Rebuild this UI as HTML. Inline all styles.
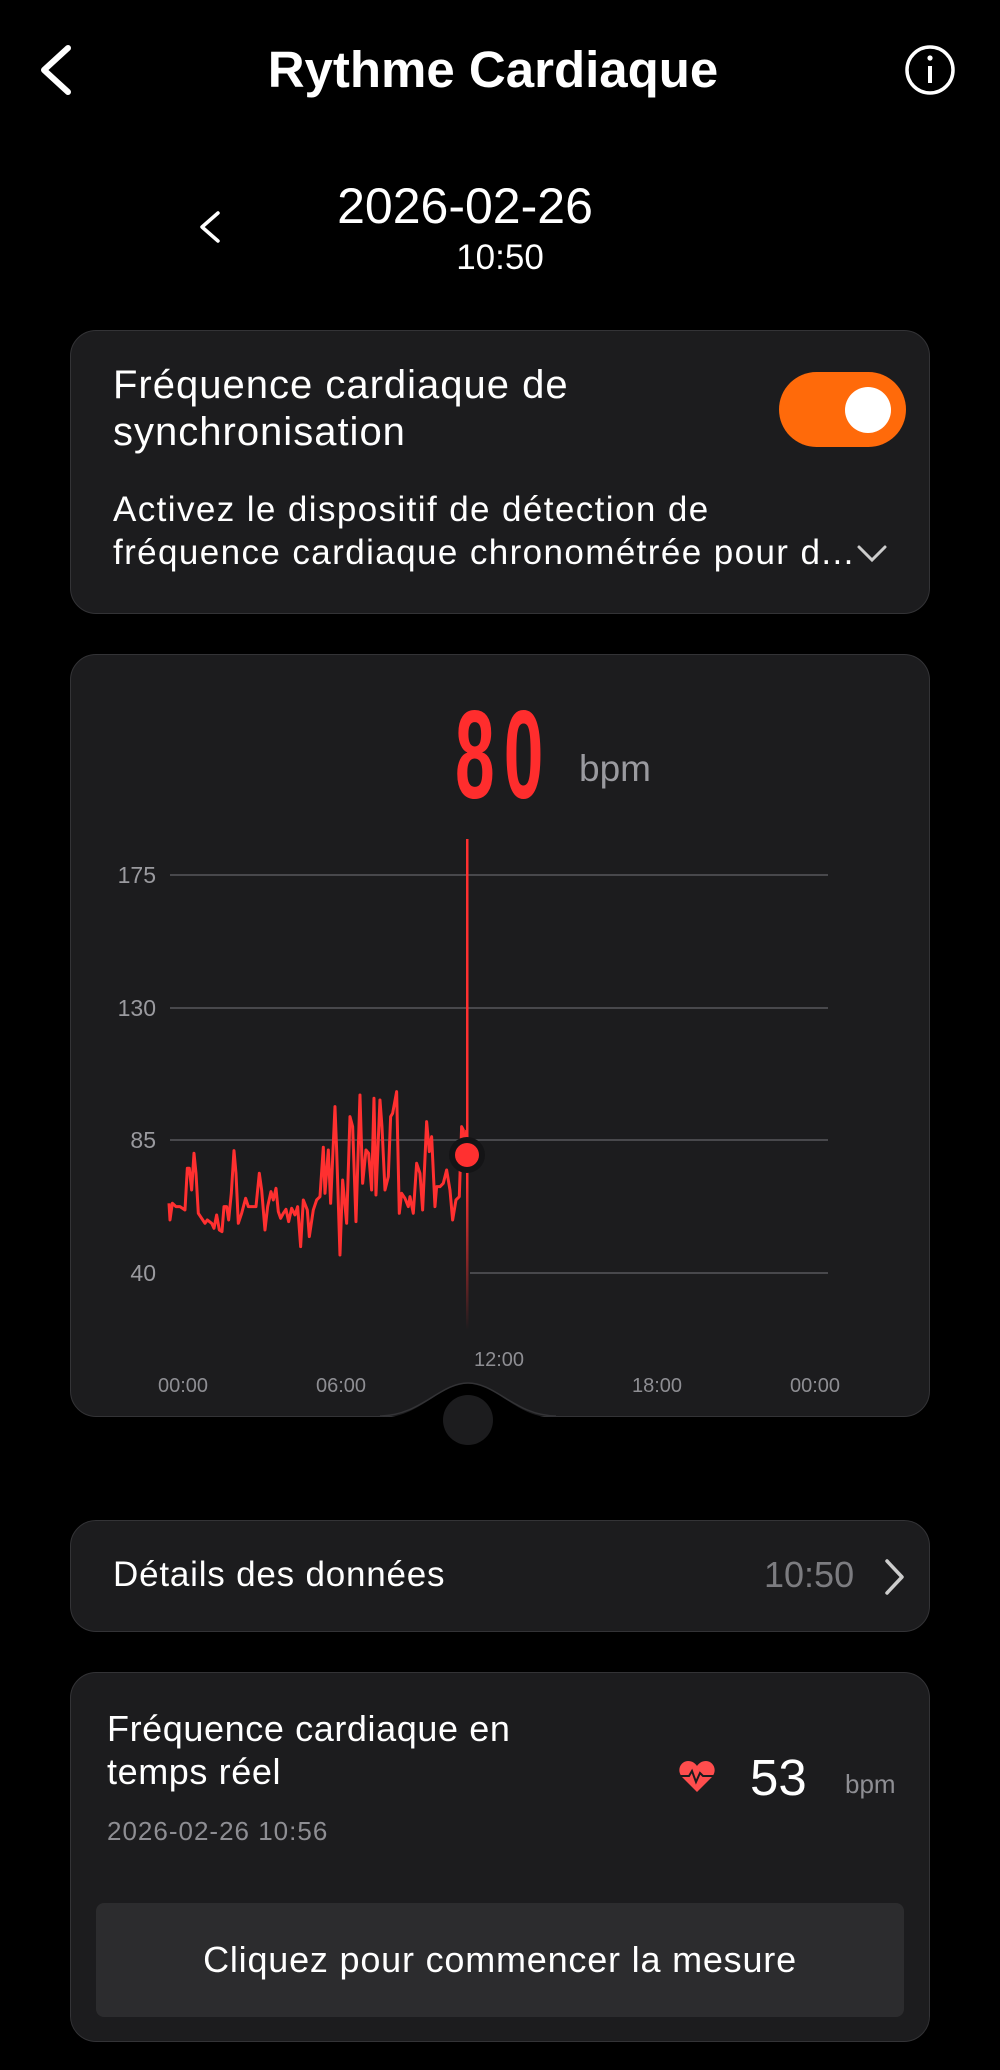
<!DOCTYPE html>
<html><head><meta charset="utf-8"><style>
*{margin:0;padding:0;box-sizing:border-box}
body{width:1000px;height:2070px;background:#000;position:relative;overflow:hidden;font-family:"Liberation Sans",sans-serif;color:#fff}
.a{position:absolute;white-space:nowrap}
.card{position:absolute;left:70px;width:860px;background:#1c1c1e;border:1.5px solid #333336;border-radius:26px}
</style></head><body>
<svg class="a" style="left:0;top:0" width="1000" height="300">
<polyline points="68,48 44,70 68,92" fill="none" stroke="#fff" stroke-width="6" stroke-linecap="round" stroke-linejoin="round"/>
<circle cx="930" cy="70" r="23" fill="none" stroke="#fff" stroke-width="3.5"/>
<rect x="928" y="66" width="4" height="17" fill="#fff"/><circle cx="930" cy="58" r="2.6" fill="#fff"/>
<polyline points="218,213 202,227 218,241" fill="none" stroke="#fff" stroke-width="3.5" stroke-linecap="round" stroke-linejoin="round"/>
</svg>
<div class="a" style="left:0;width:986px;top:40px;text-align:center;font-size:51px;font-weight:bold;line-height:60px">Rythme Cardiaque</div>
<div class="a" style="left:0;width:930px;top:178px;text-align:center;font-size:50px;line-height:56px">2026-02-26</div>
<div class="a" style="left:0;width:1000px;top:238px;text-align:center;font-size:35px;line-height:40px">10:50</div>

<div class="card" style="top:330px;height:284px"></div>
<div class="a" style="left:113px;top:362px;font-size:40px;letter-spacing:1px;line-height:47px">Fréquence cardiaque de<br>synchronisation</div>
<div class="a" style="left:779px;top:372px;width:127px;height:75px;border-radius:38px;background:#ff6a0a"></div>
<div class="a" style="left:845px;top:387px;width:46px;height:46px;border-radius:50%;background:#fff"></div>
<div class="a" style="left:113px;top:488px;font-size:35px;letter-spacing:1.4px;line-height:43px">Activez le dispositif de détection de<br>fréquence cardiaque chronométrée pour d...</div>
<svg class="a" style="left:855px;top:542px" width="36" height="24"><polyline points="4,5 17,18 30,5" fill="none" stroke="#ccc" stroke-width="3" stroke-linecap="round"/></svg>

<div class="card" style="top:654px;height:763px"></div>
<div class="a" style="left:455px;top:693px;font-size:125px;font-weight:bold;color:#ff2d2d;line-height:125px;transform:scaleX(0.57);transform-origin:left top;letter-spacing:16px">80</div>
<div class="a" style="left:579px;top:748px;font-size:37px;color:#9a9a9f">bpm</div>
<svg class="a" style="left:0;top:0" width="1000" height="1500">
<g stroke="#48484c" stroke-width="2"><line x1="170" y1="875" x2="828" y2="875"/><line x1="170" y1="1008" x2="828" y2="1008"/><line x1="170" y1="1140" x2="828" y2="1140"/><line x1="470" y1="1273" x2="828" y2="1273"/></g>
<g fill="#9a9a9f" font-size="23" font-family="Liberation Sans" text-anchor="end"><text x="156" y="883">175</text><text x="156" y="1016">130</text><text x="156" y="1148">85</text><text x="156" y="1281">40</text></g>
<g fill="#8e8e93" font-size="20" font-family="Liberation Sans" text-anchor="middle"><text x="183" y="1392">00:00</text><text x="341" y="1392">06:00</text><text x="499" y="1366">12:00</text><text x="657" y="1392">18:00</text><text x="815" y="1392">00:00</text></g>
<defs>
<linearGradient id="gv" gradientUnits="userSpaceOnUse" x1="0" y1="839" x2="0" y2="1330"><stop offset="0" stop-color="#ff3030"/><stop offset="0.7" stop-color="#ff3030"/><stop offset="1" stop-color="#ff3030" stop-opacity="0"/></linearGradient>
<linearGradient id="gf" gradientUnits="userSpaceOnUse" x1="0" y1="1090" x2="0" y2="1250"><stop offset="0" stop-color="#ff3030" stop-opacity="0.18"/><stop offset="1" stop-color="#ff3030" stop-opacity="0"/></linearGradient>
</defs>
<rect x="466" y="839" width="2.5" height="491" fill="url(#gv)"/>
<g transform="translate(70,840) scale(0.3333)">
<polyline fill="none" stroke="#ff3030" stroke-width="9" stroke-linejoin="round" points="297,1090 300,1140 307,1090 318,1100 330,1100 345,1110 352,985 358,985 365,1050 372,940 378,1000 385,1120 395,1135 405,1150 412,1140 425,1150 432,1165 440,1125 448,1170 456,1175 462,1100 470,1100 476,1140 484,1060 492,932 498,1000 505,1150 515,1120 527,1075 535,1100 550,1100 558,1100 568,1000 575,1050 585,1170 593,1100 603,1055 610,1080 618,1045 625,1115 632,1135 640,1120 648,1108 656,1145 665,1105 675,1125 683,1100 692,1220 700,1080 712,1110 718,1190 730,1110 740,1080 750,1070 760,922 765,1060 775,930 782,1090 795,800 800,930 810,1245 818,1020 830,1150 840,830 848,860 858,1145 870,765 878,1030 888,930 896,940 905,1050 912,775 918,1065 930,780 936,860 945,1050 955,1010 962,830 968,820 980,755 988,1120 995,1060 1005,1075 1015,1100 1020,1070 1030,1120 1040,970 1050,1000 1058,1110 1070,845 1078,935 1085,890 1095,1100 1100,1040 1110,1040 1120,1030 1130,990 1140,1050 1148,1140 1158,1080 1168,1070 1175,860 1180,870 1185,960 1190,870"/>
</g>
<circle cx="467" cy="1155" r="18" fill="#141416"/><circle cx="467" cy="1155" r="12" fill="#ff3030"/>
<path d="M380,1418 C420,1418 440,1383 468,1383 C496,1383 516,1418 556,1418 L560,1430 L376,1430 Z" fill="#000"/>
<path d="M380,1416 C420,1416 440,1383 468,1383 C496,1383 516,1416 556,1416" fill="none" stroke="#333336" stroke-width="1.5"/>
<circle cx="468" cy="1420" r="25" fill="#1c1c1e"/>
</svg>

<div class="card" style="top:1520px;height:112px"></div>
<div class="a" style="left:113px;top:1555px;font-size:35px;letter-spacing:0.8px;line-height:40px">Détails des données</div>
<div class="a" style="left:764px;top:1555px;font-size:36px;line-height:40px;color:#7c7c80">10:50</div>
<svg class="a" style="left:880px;top:1556px" width="30" height="42"><polyline points="7,5 22,21 7,37" fill="none" stroke="#ccc" stroke-width="3.5" stroke-linecap="round" stroke-linejoin="round"/></svg>

<div class="card" style="top:1672px;height:370px"></div>
<div class="a" style="left:107px;top:1707px;font-size:36px;letter-spacing:0.6px;line-height:43px">Fréquence cardiaque en<br>temps réel</div>
<div class="a" style="left:107px;top:1816px;font-size:26px;letter-spacing:1px;color:#8e8e93">2026-02-26 10:56</div>
<svg class="a" style="left:678px;top:1760px" width="38" height="34" viewBox="0 0 38 34"><path d="M19,32 L4,17 C-2,10 3,1 10,1 C14,1 17,3 19,6 C21,3 24,1 28,1 C35,1 40,10 34,17 Z" fill="#ff4d4d"/><polyline points="2,16 11,16 14,11 18,22 22,13 25,16 36,16" fill="none" stroke="#1c1c1e" stroke-width="2"/></svg>
<div class="a" style="left:750px;top:1750px;font-size:51px;line-height:56px">53</div>
<div class="a" style="left:845px;top:1769px;font-size:26px;color:#8e8e93">bpm</div>
<div class="a" style="left:96px;top:1903px;width:808px;height:114px;background:#2c2c2e;border-radius:8px;text-align:center;font-size:36px;letter-spacing:0.8px;line-height:114px">Cliquez pour commencer la mesure</div>
</body></html>
